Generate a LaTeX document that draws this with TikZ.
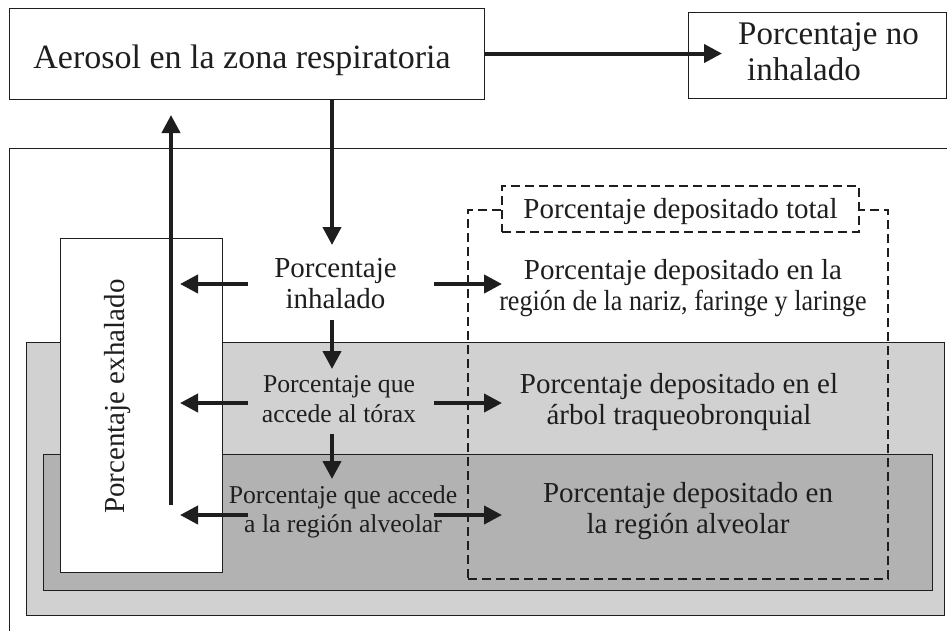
\documentclass[tikz,border=0pt]{standalone}
\usepackage{fontspec}
\setmainfont{Liberation Serif}
\usepackage{graphicx}
\usetikzlibrary{arrows.meta}
\definecolor{lgray}{RGB}{209,209,209}
\definecolor{dgray}{RGB}{178,178,178}
\definecolor{ink}{RGB}{30,30,30}
\begin{document}
\begin{tikzpicture}[x=1pt,y=-1pt,
  frame/.style={draw=ink, line width=0.9pt, anchor=north west, inner sep=0pt, outer sep=0pt},
  arr/.style={draw=ink, line width=4pt, -{Triangle[length=18pt,width=18pt]}},
  big/.style={font=\fontsize{34}{41}\selectfont, text=ink, inner sep=0pt},
  mid/.style={font=\fontsize{29}{31.5}\selectfont, align=center, text=ink, inner sep=0pt},
  small/.style={font=\fontsize{25.7}{29.5}\selectfont, align=center, text=ink, inner sep=0pt},
  dashbox/.style={draw=ink, line width=2pt, dash pattern=on 9pt off 5pt, anchor=north west, inner sep=0pt, outer sep=0pt}
]
\useasboundingbox (0,0) rectangle (947,630);
\clip (0,0) rectangle (947,630);

% boxes
\node[frame, minimum width=475pt, minimum height=91pt] (aer) at (9,8) {};
\node[big] (aertxt) at (242,60) {Aerosol en la zona respiratoria};
\node[frame, minimum width=258pt, minimum height=86pt] (noinh) at (688,12) {};
\node[big, font=\fontsize{33}{36}\selectfont, align=left, anchor=west] (noinhtxt) at (738,52) {Porcentaje no\\\hspace*{9pt}inhalado};

\node[frame, minimum width=951pt, minimum height=500pt] (outer) at (9,148) {};
\node[frame, fill=lgray, minimum width=918pt, minimum height=273pt] (thorax) at (26,342) {};
\node[frame, fill=dgray, minimum width=889pt, minimum height=136pt] (alvreg) at (43,454) {};
\node[frame, fill=white, minimum width=162pt, minimum height=334pt] (exh) at (60,238) {};
\node[mid, rotate=90] (exhtxt) at (118,396.5) {Porcentaje exhalado};

\node[dashbox, minimum width=420pt, minimum height=369pt] (tot) at (468,210) {};
\node[dashbox, fill=white, minimum width=357pt, minimum height=46pt, text depth=2pt, font=\fontsize{29}{31.5}\selectfont, text=ink] (totlab) at (502,186) {Porcentaje depositado total};

% texts
\node[mid] (inh) at (335.5,283.5) {Porcentaje\\inhalado};
\node[mid] (nar) at (683,288) {Porcentaje depositado en la\\\scalebox{0.9}[1]{región de la nariz, faringe y laringe}};
\node[small] (tor) at (339,399) {Porcentaje que\\accede al tórax};
\node[mid] (traq) at (679,402) {Porcentaje depositado en el\\árbol traqueobronquial};
\node[small] (alvs) at (343,512) {Porcentaje que accede\\a la región alveolar};
\node[mid] (alvd) at (688,511) {Porcentaje depositado en\\la región alveolar};

% arrow end points
\coordinate (noinhtip) at (722,53.5);
\coordinate (inhtop) at (332,245);
\coordinate (exhup) at (171,505);
\coordinate (exhtip) at (171,115);
\coordinate (inhL) at (248,284);  \coordinate (inhLt) at (180,284);
\coordinate (inhR) at (434,284);  \coordinate (inhRt) at (502,284);
\coordinate (torL) at (248,403);  \coordinate (torLt) at (180,403);
\coordinate (torR) at (434,403);  \coordinate (torRt) at (502,403);
\coordinate (alvL) at (248,515);  \coordinate (alvLt) at (180,515);
\coordinate (alvR) at (434,515);  \coordinate (alvRt) at (502,515);
\coordinate (inhD) at (332,320);  \coordinate (torU) at (332,369);
\coordinate (torD) at (332,434);  \coordinate (alvU) at (332,479);

% arrows
\draw[arr] (aer.east) -- (noinhtip);
\draw[arr] (aer.south -| inhtop) -- (inhtop);
\draw[arr] (exhup) -- (exhtip);
\draw[arr] (inhL) -- (inhLt);
\draw[arr] (inhR) -- (inhRt);
\draw[arr] (torL) -- (torLt);
\draw[arr] (torR) -- (torRt);
\draw[arr] (alvL) -- (alvLt);
\draw[arr] (alvR) -- (alvRt);
\draw[arr] (inhD) -- (torU);
\draw[arr] (torD) -- (alvU);
\end{tikzpicture}
\end{document}
